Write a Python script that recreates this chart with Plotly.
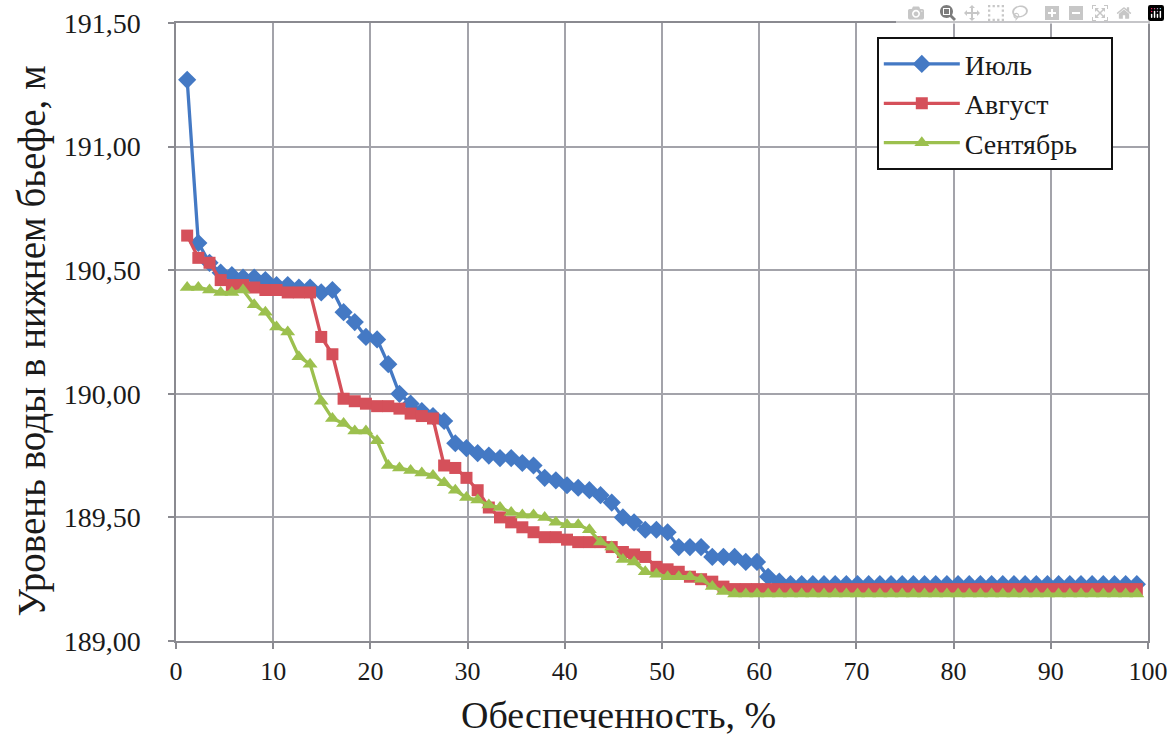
import plotly.graph_objects as go

# ---- data ----
series_names = ["Июль", "Август", "Сентябрь"]

july = [191.27, 190.61, 190.53, 190.49, 190.48, 190.47, 190.47, 190.46, 190.44, 190.44,
        190.43, 190.43, 190.41, 190.42,
        190.33, 190.29, 190.23, 190.22, 190.12, 190.00, 189.96, 189.93, 189.91, 189.89,
        189.80, 189.78, 189.76, 189.75, 189.74, 189.74, 189.72, 189.71, 189.66, 189.65,
        189.63, 189.62, 189.61, 189.59, 189.56, 189.50, 189.48, 189.45, 189.45, 189.44,
        189.38, 189.38, 189.38, 189.34, 189.34, 189.34, 189.32, 189.32, 189.26, 189.24, 189.23] + [189.23] * 31

august = [190.64, 190.55, 190.53, 190.46, 190.44, 190.44, 190.43, 190.42, 190.42, 190.41,
          190.41, 190.41,
          190.23, 190.16, 189.98, 189.97, 189.96, 189.95, 189.95, 189.94, 189.92, 189.91, 189.90,
          189.71, 189.70, 189.66, 189.61,
          189.54, 189.50, 189.48, 189.46, 189.44, 189.42, 189.42, 189.41, 189.40, 189.40, 189.40,
          189.38, 189.36,
          189.35, 189.34, 189.30, 189.29, 189.28, 189.26, 189.25, 189.24, 189.22] + [189.21] * 37

september = [190.43, 190.43, 190.42, 190.41, 190.41, 190.42,
             190.36, 190.33, 190.27, 190.25, 190.15, 190.12,
             189.97, 189.90, 189.88, 189.85, 189.85, 189.81,
             189.71, 189.70, 189.69, 189.68, 189.67, 189.64, 189.61, 189.58,
             189.57, 189.55, 189.54, 189.52, 189.51, 189.51, 189.50, 189.48, 189.47, 189.47,
             189.45, 189.40, 189.38, 189.33, 189.32,
             189.28, 189.27, 189.26, 189.26, 189.26, 189.25, 189.22, 189.20] + [189.19] * 37

n_years = len(july)
# exceedance probability (Weibull plotting position), %
probability = [m / (n_years + 1) * 100 for m in range(1, n_years + 1)]

x_ticks = [0, 10, 20, 30, 40, 50, 60, 70, 80, 90, 100]
y_ticks = [189.0, 189.5, 190.0, 190.5, 191.0, 191.5]
y_tick_labels = ["189,00", "189,50", "190,00", "190,50", "191,00", "191,50"]

x_title = "Обеспеченность, %"
y_title = "Уровень воды в нижнем бьефе, м"

# ---- styling ----
colors = ["#4479C4", "#D5505A", "#9CC04E"]
symbols = ["diamond", "square", "triangle-up"]
msizes = [14, 12, 13]
FONT = "Liberation Serif"
GRID = "#A3A3AA"
TXT = "#1a1a1a"

fig = go.Figure()
for name, vals, c, s, ms in zip(series_names, [july, august, september], colors, symbols, msizes):
    fig.add_trace(go.Scatter(
        x=probability, y=vals, name=name + "\u00a0\u00a0\u00a0\u00a0", mode="lines+markers",
        line=dict(color=c, width=3.3),
        marker=dict(symbol=s, size=ms, color=c, line=dict(width=0)),
        legendgroup=name,
    ))

fig.update_layout(
    width=1170, height=745,
    margin=dict(l=176, r=22, t=23, b=104),
    paper_bgcolor="white", plot_bgcolor="white",
    font=dict(family=FONT, color=TXT),
    showlegend=True,
    legend=dict(
        x=0.721, y=0.977, xanchor="left", yanchor="top",
        bgcolor="white", bordercolor="#111111", borderwidth=2,
        font=dict(family=FONT, size=28, color=TXT),
        tracegroupgap=0,
        itemwidth=76,
    ),
    annotations=[
        dict(text=x_title, xref="paper", yref="paper", x=0.455, y=-0.12,
             xanchor="center", yanchor="middle", showarrow=False,
             font=dict(family=FONT, size=38, color=TXT)),
        dict(text=y_title, xref="paper", yref="paper", x=-0.148, y=0.485,
             xanchor="center", yanchor="middle", showarrow=False, textangle=-90,
             font=dict(family=FONT, size=39, color=TXT)),
    ],
)

fig.update_xaxes(
    range=[0, 100], tickmode="array", tickvals=x_ticks,
    showgrid=True, gridcolor=GRID, gridwidth=1.5,
    showline=True, linecolor="#8A8A90", linewidth=1.5, mirror=True,
    ticks="outside", ticklen=6, tickcolor="#8A8A90", tickwidth=1.5,
    tickfont=dict(family=FONT, size=26, color=TXT),
    ticklabelstandoff=0, ticklabeloverflow="allow",
    zeroline=False, automargin=False,
)
fig.update_yaxes(
    range=[189.0, 191.5], tickmode="array", tickvals=y_ticks, ticktext=y_tick_labels,
    showgrid=True, gridcolor=GRID, gridwidth=1.5,
    showline=True, linecolor="#8A8A90", linewidth=1.5, mirror=True,
    ticks="outside", ticklen=6, tickcolor="#8A8A90", tickwidth=1.5,
    tickfont=dict(family=FONT, size=28, color=TXT),
    ticklabelstandoff=22, ticklabeloverflow="allow",
    zeroline=False, automargin=False,
)

# remove the default 8px page margin so the figure fills the window exactly
fig.write_html(
    "out.html",
    post_script="document.body.style.margin='0';document.body.style.overflow='hidden';",
)
